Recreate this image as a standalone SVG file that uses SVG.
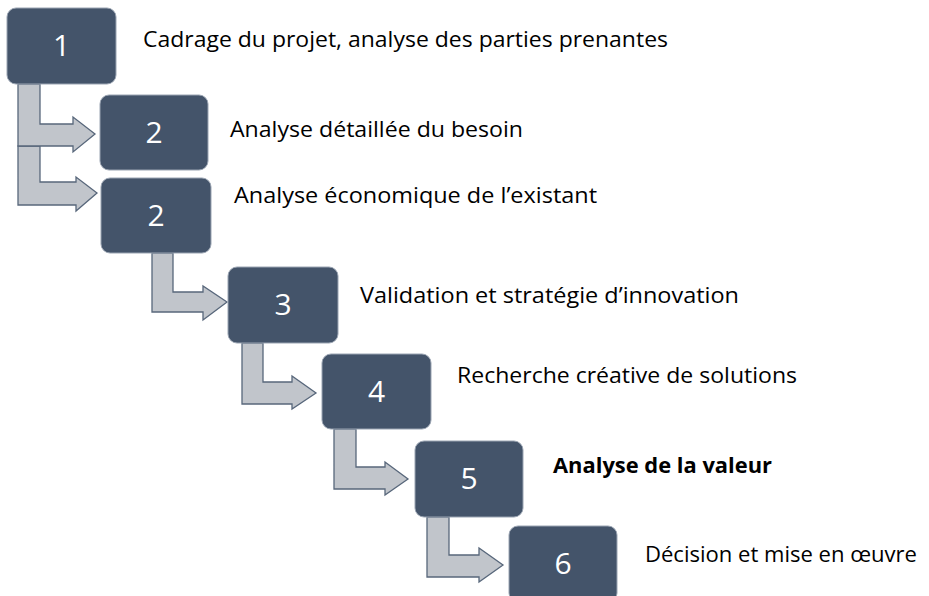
<svg xmlns="http://www.w3.org/2000/svg" width="929" height="596" viewBox="0 0 929 596">
<style>
.box{fill:#44546a;stroke:#9aa4b2;stroke-width:1}
.num{fill:#ffffff;font-family:"Open Sans","Liberation Sans",sans-serif;font-size:30px;text-anchor:middle}
.lbl{fill:#000000;font-family:"Open Sans","Liberation Sans",sans-serif;font-size:22px}
.bold{font-weight:bold;font-size:21px}
.arr{fill:#c1c5cb;stroke:#58677b;stroke-width:1.3;stroke-linejoin:miter}
</style>
<rect width="929" height="596" fill="#ffffff"/>
<g id="connectors">
<polygon class="arr" points="18,146 40,146 40,182 76,182 76,177 97,193 76,211 76,205 18,205"/>
<polygon class="arr" points="18,84 40,84 40,124 73,124 73,117 95,134 73,152 73,146 18,146"/>
<polygon class="arr" points="152,253 173,253 173,292 203,292 203,286 227,302 203,320 203,312 152,312"/>
<polygon class="arr" points="242,343 263,343 263,382 292,382 292,376 316,393 292,409 292,404 242,404"/>
<polygon class="arr" points="334,429 356,429 356,467 385,467 385,462 408,479 385,495 385,489 334,489"/>
<polygon class="arr" points="427,517 449,517 449,555 479,555 479,548 503,565 479,582 479,577 427,577"/>
</g>
<g id="node1">
<rect class="box" x="7" y="8" width="109" height="76" rx="9"/>
<text class="num" x="61.5" y="56">1</text>
<text class="lbl" x="143" y="47" textLength="525" lengthAdjust="spacingAndGlyphs">Cadrage du projet, analyse des parties prenantes</text>
</g>
<g id="node2a">
<rect class="box" x="100" y="95" width="108" height="75" rx="9"/>
<text class="num" x="154" y="143">2</text>
<text class="lbl" x="230" y="137" textLength="293" lengthAdjust="spacingAndGlyphs">Analyse détaillée du besoin</text>
</g>
<g id="node2b">
<rect class="box" x="101" y="178" width="110" height="75" rx="9"/>
<text class="num" x="156" y="226">2</text>
<text class="lbl" x="234" y="203" textLength="363" lengthAdjust="spacingAndGlyphs">Analyse économique de l’existant</text>
</g>
<g id="node3">
<rect class="box" x="228" y="267" width="110" height="76" rx="9"/>
<text class="num" x="283" y="315">3</text>
<text class="lbl" x="360" y="303" textLength="379" lengthAdjust="spacingAndGlyphs">Validation et stratégie d’innovation</text>
</g>
<g id="node4">
<rect class="box" x="322" y="354" width="109" height="75" rx="9"/>
<text class="num" x="376.5" y="402">4</text>
<text class="lbl" x="457" y="383" textLength="340" lengthAdjust="spacingAndGlyphs">Recherche créative de solutions</text>
</g>
<g id="node5">
<rect class="box" x="415" y="441" width="108" height="76" rx="9"/>
<text class="num" x="469" y="489">5</text>
<text class="lbl bold" x="553" y="473" textLength="219" lengthAdjust="spacingAndGlyphs">Analyse de la valeur</text>
</g>
<g id="node6">
<rect class="box" x="509" y="526" width="108" height="76" rx="9"/>
<text class="num" x="563" y="574">6</text>
<text class="lbl" x="645" y="562" textLength="272" lengthAdjust="spacingAndGlyphs">Décision et mise en œuvre</text>
</g>
</svg>
